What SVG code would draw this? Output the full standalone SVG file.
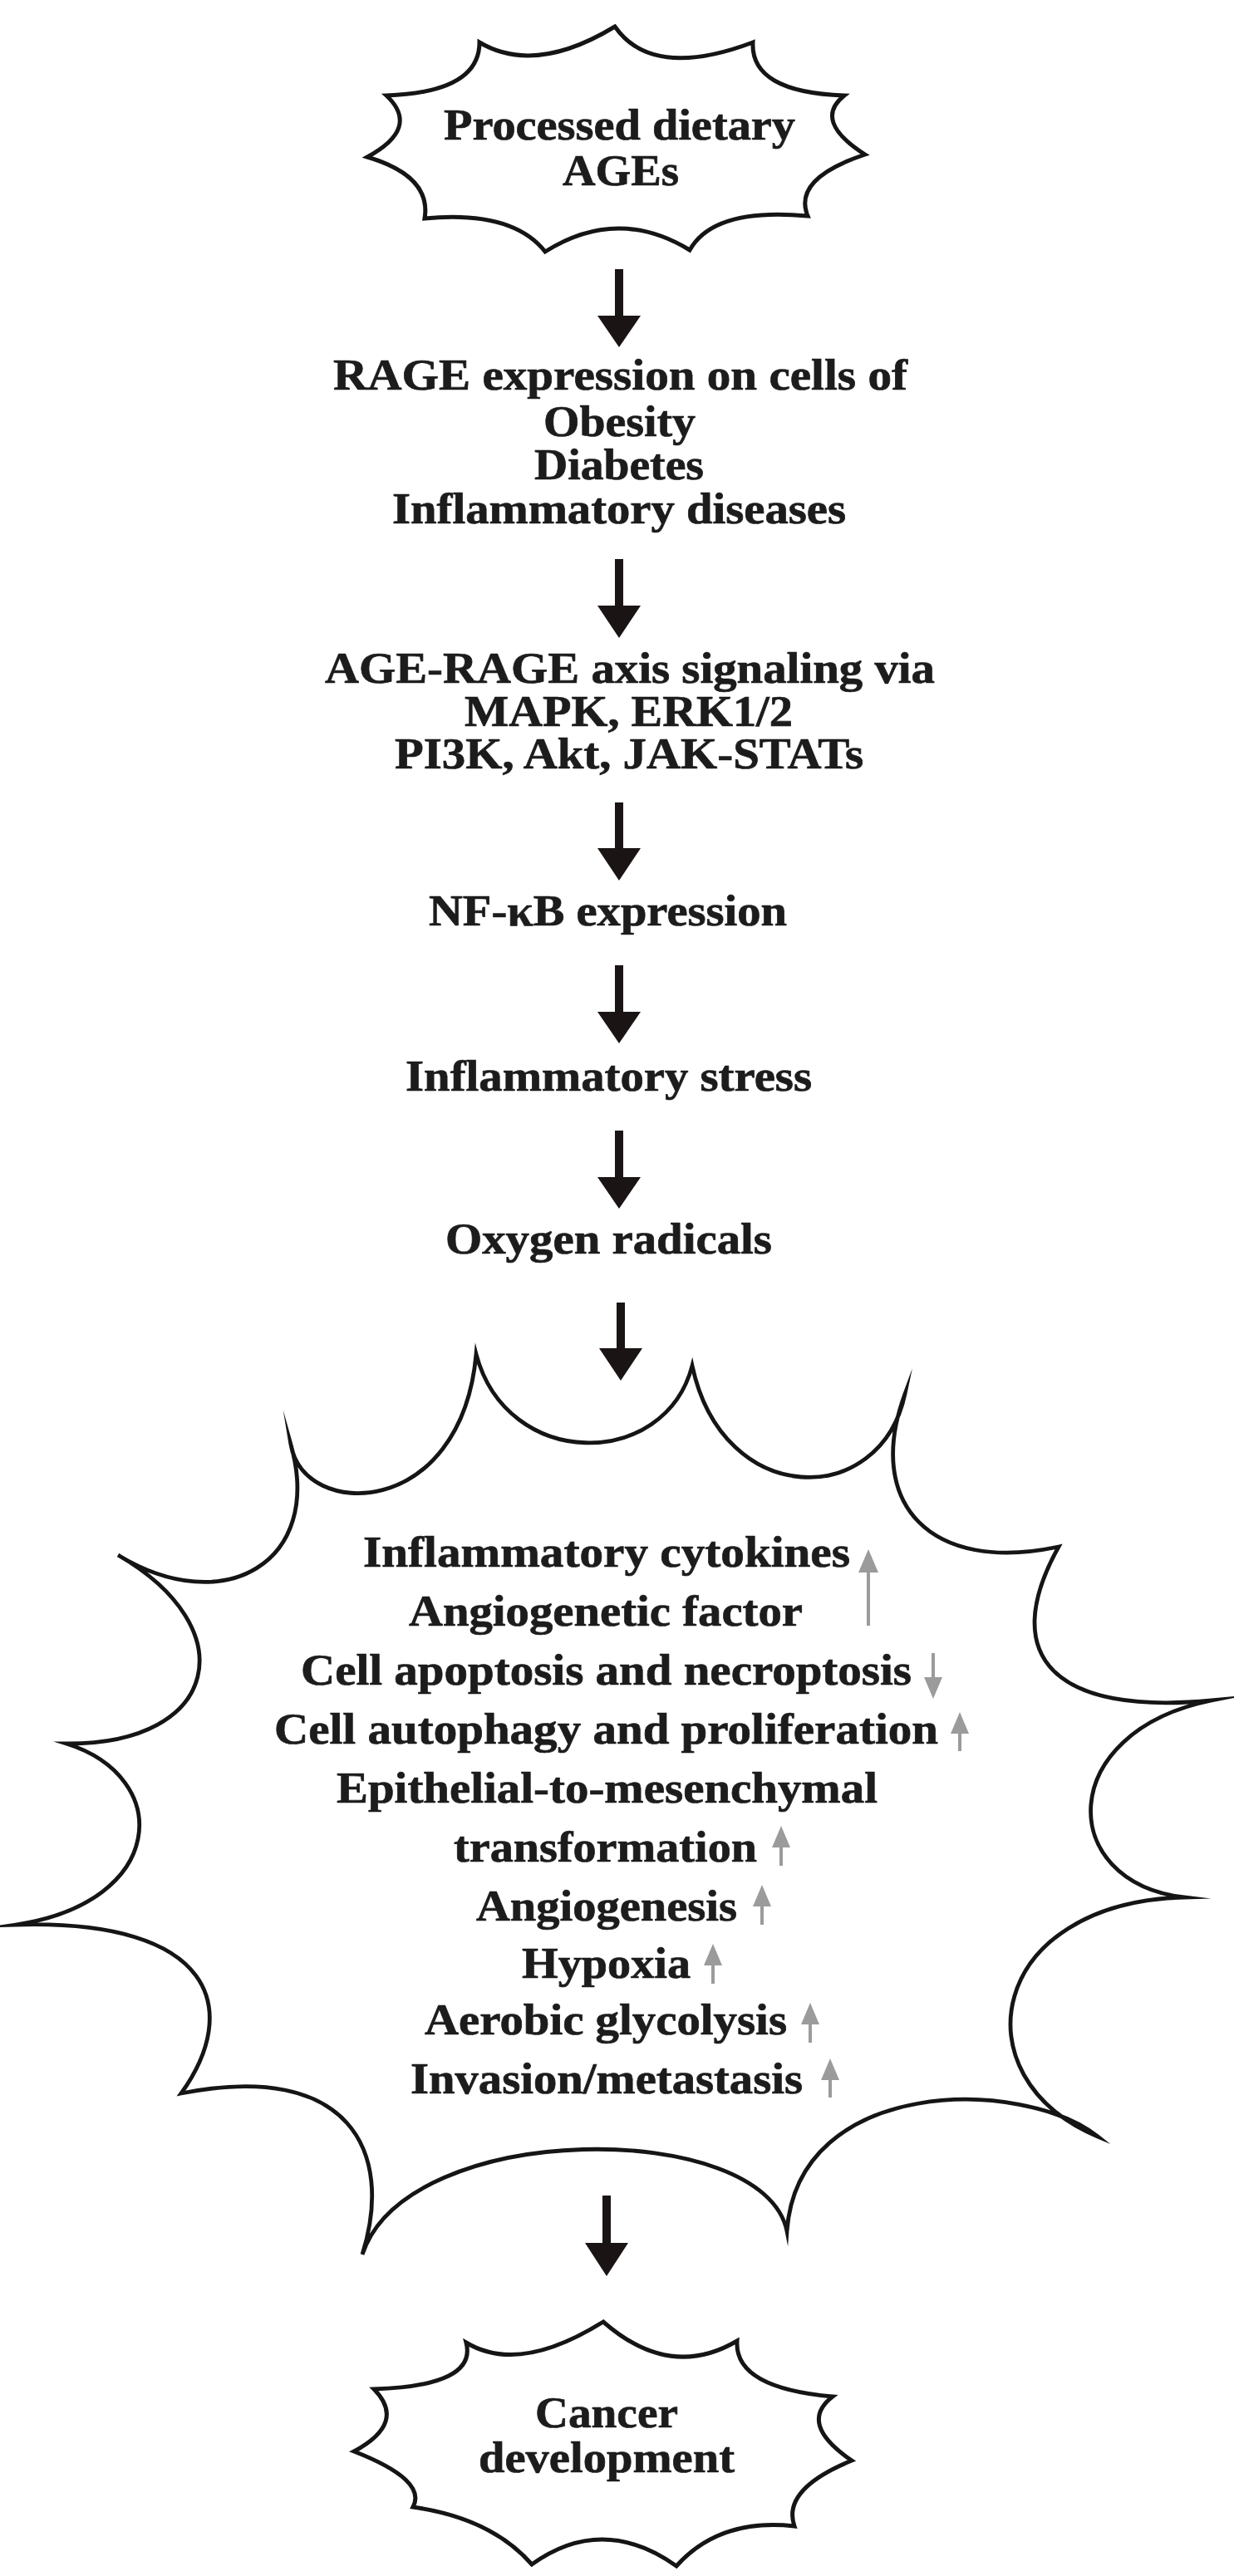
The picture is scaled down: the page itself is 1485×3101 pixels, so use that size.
<svg xmlns="http://www.w3.org/2000/svg" width="1485" height="3101" viewBox="0 0 1485 3101">
<style>
  .bg { fill: #ffffff; }
  .burst { fill: #ffffff; stroke: #151515; stroke-linejoin: miter; stroke-miterlimit: 20; }
  .t { font-family: "Liberation Serif", "Times New Roman", serif; font-weight: bold; font-size: 52px; fill: #1c1c1c; stroke: #1c1c1c; stroke-width: 0.7; text-anchor: middle; }
  .arrow { fill: #1a1414; }
  .garrow line { stroke: #9b9b9b; stroke-width: 4; }
  .garrow path { fill: #9b9b9b; }
</style>
<rect class="bg" x="0" y="0" width="1485" height="3101"/>

<g id="node-dietary-ages">
  <path class="burst" stroke-width="5" d="M 740,32 Q 785,96.5 906,51 Q 903,111 1016,115 Q 977.5,145.5 1041,186 Q 953.5,215 972,260 Q 859,249.5 830,301 Q 743,248 656,303 Q 616.5,253 511,263 Q 519.5,212 442,189 Q 506.5,154 465,115 Q 577,111 577,51 Q 643.5,90.5 740,32 Z"/>
  <text class="t" x="745.5" y="168" textLength="423" lengthAdjust="spacingAndGlyphs">Processed dietary</text>
  <text class="t" x="747" y="223" textLength="140" lengthAdjust="spacingAndGlyphs">AGEs</text>
</g>

<g id="node-rage-expression">
  <text class="t" x="746.5" y="469" textLength="691" lengthAdjust="spacingAndGlyphs">RAGE expression on cells of</text>
  <text class="t" x="745.5" y="525" textLength="183" lengthAdjust="spacingAndGlyphs">Obesity</text>
  <text class="t" x="745" y="577" textLength="204" lengthAdjust="spacingAndGlyphs">Diabetes</text>
  <text class="t" x="745" y="630" textLength="546" lengthAdjust="spacingAndGlyphs">Inflammatory diseases</text>
</g>

<g id="node-age-rage-signaling">
  <text class="t" x="758" y="822" textLength="734" lengthAdjust="spacingAndGlyphs">AGE-RAGE axis signaling via</text>
  <text class="t" x="756.5" y="874" textLength="395" lengthAdjust="spacingAndGlyphs">MAPK, ERK1/2</text>
  <text class="t" x="757" y="925" textLength="564" lengthAdjust="spacingAndGlyphs">PI3K, Akt, JAK-STATs</text>
</g>

<g id="node-nfkb">
  <text class="t" x="731.5" y="1114" textLength="431" lengthAdjust="spacingAndGlyphs">NF-κB expression</text>
</g>

<g id="node-inflammatory-stress">
  <text class="t" x="732.5" y="1313" textLength="489" lengthAdjust="spacingAndGlyphs">Inflammatory stress</text>
</g>

<g id="node-oxygen-radicals">
  <text class="t" x="732.5" y="1509" textLength="393" lengthAdjust="spacingAndGlyphs">Oxygen radicals</text>
</g>

<g id="node-effects">
  <path class="burst" stroke-width="4.8" d="M 573,1630 C 610,1770 800,1770 833,1644 C 870,1817 1060,1817 1089,1678 C 1040,1810 1120,1895 1274,1862 C 1200,1995 1270,2065 1458,2047 C 1270,2085 1270,2265 1425,2284 C 1190,2290 1150,2500 1321,2572 C 1230,2500 960,2500 947,2686 C 920,2550 490,2550 436,2714 C 475,2590 420,2480 218,2520 C 290,2420 260,2310 19,2317 C 200,2290 210,2140 80,2099 C 265,2100 295,1960 142,1872 C 270,1950 390,1880 350,1739 C 365,1830 555,1830 573,1630 Z"/>
  <text class="t" x="730" y="1886" textLength="586" lengthAdjust="spacingAndGlyphs">Inflammatory cytokines</text>
  <text class="t" x="729" y="1957" textLength="474" lengthAdjust="spacingAndGlyphs">Angiogenetic factor</text>
  <text class="t" x="729.5" y="2028" textLength="735" lengthAdjust="spacingAndGlyphs">Cell apoptosis and necroptosis</text>
  <text class="t" x="729.5" y="2099" textLength="799" lengthAdjust="spacingAndGlyphs">Cell autophagy and proliferation</text>
  <text class="t" x="730.5" y="2170" textLength="651" lengthAdjust="spacingAndGlyphs">Epithelial-to-mesenchymal</text>
  <text class="t" x="728.5" y="2241" textLength="365" lengthAdjust="spacingAndGlyphs">transformation</text>
  <text class="t" x="730" y="2312" textLength="314" lengthAdjust="spacingAndGlyphs">Angiogenesis</text>
  <text class="t" x="729.5" y="2381" textLength="203" lengthAdjust="spacingAndGlyphs">Hypoxia</text>
  <text class="t" x="729" y="2449" textLength="436" lengthAdjust="spacingAndGlyphs">Aerobic glycolysis</text>
  <text class="t" x="730" y="2520" textLength="472" lengthAdjust="spacingAndGlyphs">Invasion/metastasis</text>
  <g class="garrow">
    <line x1="1045" y1="1957" x2="1045" y2="1885"/>
    <path d="M 1033,1893 L 1045,1865 L 1057,1893 Z"/>
    <line x1="1123" y1="1990" x2="1123" y2="2025"/>
    <path d="M 1112,2019 L 1123,2045 L 1134,2019 Z"/>
    <line x1="1155" y1="2108" x2="1155" y2="2080"/>
    <path d="M 1144,2087 L 1155,2061 L 1166,2087 Z"/>
    <line x1="940" y1="2246" x2="940" y2="2217"/>
    <path d="M 929,2224 L 940,2198 L 951,2224 Z"/>
    <line x1="917" y1="2317" x2="917" y2="2288"/>
    <path d="M 906,2295 L 917,2269 L 928,2295 Z"/>
    <line x1="858" y1="2388" x2="858" y2="2359"/>
    <path d="M 847,2366 L 858,2340 L 869,2366 Z"/>
    <line x1="975" y1="2459" x2="975" y2="2430"/>
    <path d="M 964,2437 L 975,2411 L 986,2437 Z"/>
    <line x1="999" y1="2525" x2="999" y2="2497"/>
    <path d="M 988,2504 L 999,2478 L 1010,2504 Z"/>
  </g>
</g>

<g id="node-cancer">
  <path class="burst" stroke-width="5" d="M 726,2795 Q 806.5,2865.5 887,2818 Q 883.5,2874.5 1002,2885 Q 959.7,2917.5 1025,2962 Q 940.5,2996.5 956,3041 Q 866,3031 814,3089 Q 725,3026 640,3087 Q 591.5,3031.5 497,3018 Q 514.5,2985.5 426,2951 Q 490,2916.5 450,2876 Q 574.5,2872 561,2820 Q 624.5,2858.5 726,2795 Z"/>
  <text class="t" x="730" y="2922" textLength="172" lengthAdjust="spacingAndGlyphs">Cancer</text>
  <text class="t" x="730" y="2976" textLength="308" lengthAdjust="spacingAndGlyphs">development</text>
</g>

<g id="connectors">
  <path class="arrow" d="M 740,324 H 750 V 380 H 771 L 745,418 L 719,380 H 740 Z"/>
  <path class="arrow" d="M 740,673 H 750 V 729 H 771 L 745,768 L 719,729 H 740 Z"/>
  <path class="arrow" d="M 740,966 H 750 V 1021 H 771 L 745,1060 L 719,1021 H 740 Z"/>
  <path class="arrow" d="M 740,1162 H 750 V 1218 H 771 L 745,1256 L 719,1218 H 740 Z"/>
  <path class="arrow" d="M 740,1361 H 750 V 1417 H 771 L 745,1455 L 719,1417 H 740 Z"/>
  <path class="arrow" d="M 742,1568 H 752 V 1623 H 773 L 747,1662 L 721,1623 H 742 Z"/>
  <path class="arrow" d="M 725,2643 H 735 V 2700 H 756 L 730,2740 L 704,2700 H 725 Z"/>
</g>
</svg>
